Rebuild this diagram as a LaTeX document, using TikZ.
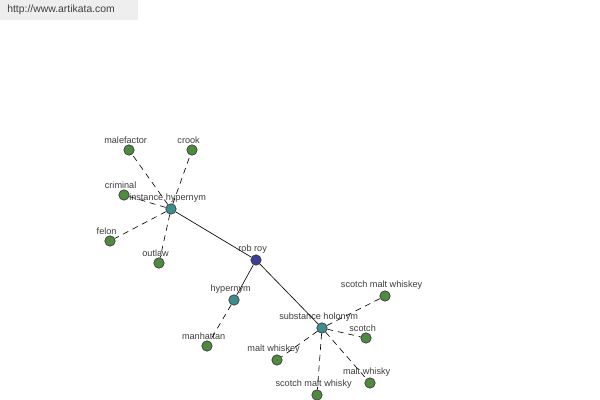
\documentclass[tikz,border=0pt]{standalone}
\usepackage{fontspec}
\setmainfont{Liberation Sans}
\usetikzlibrary{arrows.meta}
\definecolor{rootc}{RGB}{62,62,150}
\definecolor{relc}{RGB}{62,142,142}
\definecolor{leafc}{RGB}{78,138,64}
\definecolor{lblc}{RGB}{60,60,60}
\definecolor{urlbg}{RGB}{238,238,238}
\tikzset{
    wnode/.style={circle, draw=black!75, line width=0.5pt, inner sep=0pt, minimum size=0.26cm},
    root/.style={wnode, fill=rootc},
    rel/.style={wnode, fill=relc},
    leaf/.style={wnode, fill=leafc},
    lbl/.style={inner sep=0.6pt, xshift=-2.4pt, text=lblc, font=\fontsize{6.5}{7.5}\selectfont},
    link/.style={line width=0.45pt, black},
    dlink/.style={line width=0.45pt, black, dash pattern=on 4.2pt off 3.4pt}
}
\begin{document}
\begin{tikzpicture}[x=0.025cm, y=-0.025cm]
        \useasboundingbox (0,0) rectangle (600,400);
        \node[fill=urlbg, anchor=north west, minimum width=3.45cm, minimum height=0.5cm, inner sep=0pt] (urlbox) at (0,0) {};
        \node[anchor=west, inner sep=0pt, text=black!75, font=\fontsize{7.4}{9}\selectfont] (url) at (7,10) {http://www.artikata.com};

        \node[root, label={[lbl]above:rob roy}] (rr) at (256,260) {};
        \node[rel, label={[lbl]above:instance hypernym}] (ih) at (171,209) {};
        \node[rel, label={[lbl]above:hypernym}] (hy) at (234,300) {};
        \node[rel, label={[lbl]above:substance holonym}] (sh) at (322,328) {};

        \node[leaf, label={[lbl]above:malefactor}] (mal) at (129,150) {};
        \node[leaf, label={[lbl]above:crook}] (cro) at (192,150) {};
        \node[leaf, label={[lbl]above:criminal}] (cri) at (124,195) {};
        \node[leaf, label={[lbl]above:felon}] (fel) at (110,241) {};
        \node[leaf, label={[lbl]above:outlaw}] (out) at (159,263) {};
        \node[leaf, label={[lbl]above:manhattan}] (man) at (207,346) {};
        \node[leaf, label={[lbl]above:scotch malt whiskey}] (smwy) at (385,296) {};
        \node[leaf, label={[lbl]above:scotch}] (sco) at (366,338) {};
        \node[leaf, label={[lbl]above:malt whiskey}] (mwy) at (277,360) {};
        \node[leaf, label={[lbl]above:malt whisky}] (mwh) at (370,383) {};
        \node[leaf, label={[lbl]above:scotch malt whisky}] (smwh) at (317,395) {};

        \draw[link] (rr) -- (ih);
        \draw[link] (rr) -- (hy);
        \draw[link] (rr) -- (sh);
        \draw[dlink] (ih) -- (mal);
        \draw[dlink] (ih) -- (cro);
        \draw[dlink] (ih) -- (cri);
        \draw[dlink] (ih) -- (fel);
        \draw[dlink] (ih) -- (out);
        \draw[dlink] (hy) -- (man);
        \draw[dlink] (sh) -- (smwy);
        \draw[dlink] (sh) -- (sco);
        \draw[dlink] (sh) -- (mwy);
        \draw[dlink] (sh) -- (mwh);
        \draw[dlink] (sh) -- (smwh);
    \end{tikzpicture}
\end{document}
